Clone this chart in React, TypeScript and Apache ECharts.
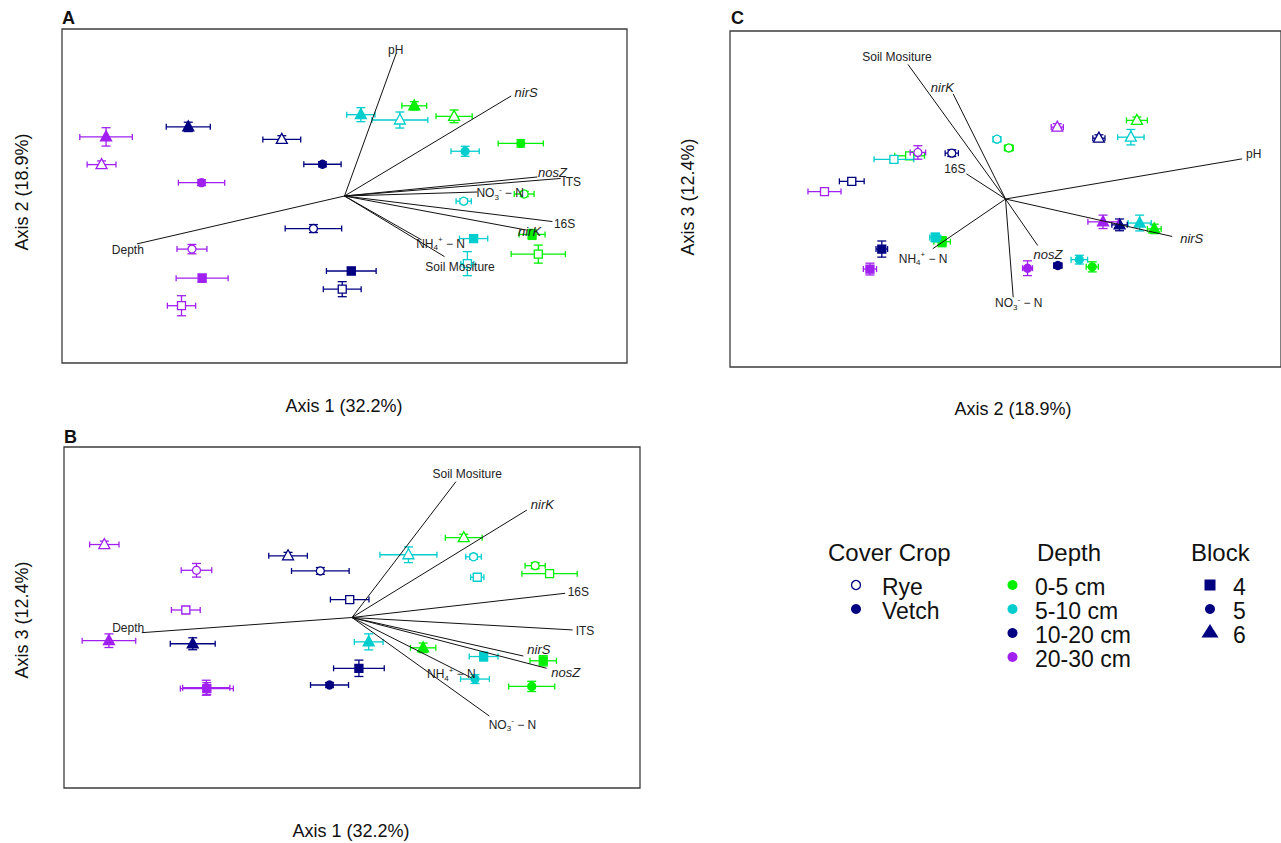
import { useEffect, useRef } from "react";
import * as echarts from "echarts";

const W = 1281;
const H = 843;
const FONT = "'Liberation Sans', Arial, Helvetica, sans-serif";
const INK = "#222";

// Factor levels
const depthLevels = ["0-5 cm", "5-10 cm", "10-20 cm", "20-30 cm"];
const depthColors = ["#00F000", "#00CDCD", "#000080", "#A020F0"];
const cropLevels = ["Rye", "Vetch"];
const blockLevels = ["4", "5", "6"];

// Group centroids (depth × cover crop × block); 0 = Rye, 1 = Vetch; block 0/1/2 = 4/5/6
const sampleDepth = [0, 0, 0, 0, 0, 0, 1, 1, 1, 1, 1, 1, 2, 2, 2, 2, 2, 2, 3, 3, 3, 3, 3, 3];
const sampleCrop = [0, 0, 0, 1, 1, 1, 0, 0, 0, 1, 1, 1, 0, 0, 0, 1, 1, 1, 0, 0, 0, 1, 1, 1];
const sampleBlock = [0, 1, 2, 0, 1, 2, 0, 1, 2, 0, 1, 2, 0, 1, 2, 0, 1, 2, 0, 1, 2, 0, 1, 2];

const axis1Score = [0.686, 0.636, 0.388, 0.664, 0.624, 0.247, 0.435, 0.422, 0.196, 0.457, 0.427, 0.058,
  -0.008, -0.110, -0.222, 0.024, -0.078, -0.553, -0.577, -0.540, -0.860, -0.504, -0.506, -0.844];
const axis2Score = [-0.348, 0.012, 0.477, -0.230, 0.315, 0.540, -0.405, -0.031, 0.455, -0.255, 0.268, 0.487,
  -0.558, -0.195, 0.339, -0.449, 0.190, 0.414, -0.657, -0.318, 0.188, -0.492, 0.080, 0.354];
const axis3Score = [0.257, 0.304, 0.468, -0.254, -0.404, -0.178, 0.236, 0.356, 0.368, -0.229, -0.361, -0.143,
  0.105, 0.273, 0.362, -0.298, -0.396, -0.154, 0.044, 0.277, 0.428, -0.417, -0.412, -0.136];

// Standard errors of the centroids on each axis
const axis1Err = [0.096, 0.035, 0.064, 0.046, 0.080, 0.044, 0.023, 0.027, 0.099, 0.050, 0.050, 0.050,
  0.067, 0.100, 0.067, 0.088, 0.066, 0.078, 0.050, 0.053, 0.051, 0.092, 0.082, 0.093];
const axis2Err = [0.054, 0.016, 0.038, 0.030, 0.022, 0.025, 0.072, 0.014, 0.048, 0.020, 0.030, 0.042,
  0.045, 0.024, 0.022, 0.021, 0.015, 0.028, 0.060, 0.028, 0.022, 0.024, 0.018, 0.055];
const axis3Err = [0.015, 0.018, 0.020, 0.030, 0.030, 0.028, 0.018, 0.015, 0.046, 0.026, 0.026, 0.047,
  0.018, 0.020, 0.020, 0.048, 0.015, 0.035, 0.018, 0.040, 0.020, 0.035, 0.044, 0.040];

// Fitted environmental vectors per ordination plane: tips and label anchors
const vectorNamesA = ["pH", "nirS", "nosZ", "ITS", "NO3", "16S", "nirK", "NH4", "Soil Mositure", "Depth"];
const vectorTipA = [[0.183, 0.854], [0.590, 0.599], [0.683, 0.114], [0.765, 0.105], [0.471, 0.024],
  [0.736, -0.153], [0.644, -0.204], [0.273, -0.263], [0.354, -0.363], [-0.735, -0.287]];
const vectorLabelA = [[0.181, 0.874], [0.643, 0.618], [0.736, 0.140], [0.804, 0.082], [0.551, 0.016],
  [0.779, -0.168], [0.655, -0.214], [0.340, -0.287], [0.409, -0.423], [-0.767, -0.323]];

const vectorNamesB = ["Soil Mositure", "nirK", "16S", "ITS", "nirS", "nosZ", "NH4", "NO3", "Depth"];
const vectorTipB = [[0.361, 0.797], [0.607, 0.630], [0.740, 0.142], [0.766, -0.073], [0.595, -0.226],
  [0.676, -0.298], [0.416, -0.355], [0.477, -0.578], [-0.730, -0.089]];
const vectorLabelB = [[0.400, 0.842], [0.661, 0.660], [0.786, 0.151], [0.809, -0.079], [0.649, -0.187],
  [0.742, -0.322], [0.345, -0.333], [0.557, -0.630], [-0.777, -0.060]];

const vectorNamesC = ["Soil Mositure", "nirK", "16S", "NH4", "NO3", "nosZ", "nirS", "pH"];
const vectorTipC = [[-0.354, 0.801], [-0.190, 0.626], [-0.142, 0.150], [-0.264, -0.296], [0.028, -0.585],
  [0.117, -0.277], [0.605, -0.223], [0.859, 0.239]];
const vectorLabelC = [[-0.394, 0.844], [-0.229, 0.662], [-0.184, 0.176], [-0.299, -0.356], [0.048, -0.620],
  [0.154, -0.330], [0.676, -0.237], [0.901, 0.265]];

const geneNames = ["nirS", "nirK", "nosZ"];

const richLabel = {
  m: { fontSize: 12, fontFamily: FONT, fill: INK, lineHeight: 16 },
  s: { fontSize: 8, fontFamily: FONT, fill: INK, lineHeight: 8, verticalAlign: "bottom" },
  p: { fontSize: 8, fontFamily: FONT, fill: INK, lineHeight: 8, verticalAlign: "top" },
};

function vectorLabelStyle(name: string) {
  const base = { fill: INK, textAlign: "center", textVerticalAlign: "middle" };
  if (name === "NO3") return { ...base, text: "{m|NO}{s|3}{p|-}{m| − N}", rich: richLabel };
  if (name === "NH4") return { ...base, text: "{m|NH}{s|4}{p|+}{m| − N}", rich: richLabel };
  if (geneNames.includes(name)) return { ...base, text: name, font: `italic 13px ${FONT}` };
  return { ...base, text: name, font: `12px ${FONT}` };
}

function pointRenderer(_params: any, api: any) {
  const x = api.value(0);
  const y = api.value(1);
  const ex = api.value(2);
  const ey = api.value(3);
  const idx = api.value(4);
  const c = api.coord([x, y]);
  const xl = api.coord([x - ex, y])[0];
  const xr = api.coord([x + ex, y])[0];
  const yt = api.coord([x, y + ey])[1];
  const yb = api.coord([x, y - ey])[1];
  const color = depthColors[sampleDepth[idx]];
  const filled = sampleCrop[idx] === 1;
  const ls = { stroke: color, lineWidth: 1.3 };
  const seg = (x1: number, y1: number, x2: number, y2: number) => ({
    type: "line",
    shape: { x1, y1, x2, y2 },
    style: ls,
  });
  const children: any[] = [
    seg(xl, c[1], xr, c[1]),
    seg(xl, c[1] - 3, xl, c[1] + 3),
    seg(xr, c[1] - 3, xr, c[1] + 3),
    seg(c[0], yt, c[0], yb),
    seg(c[0] - 4.5, yt, c[0] + 4.5, yt),
    seg(c[0] - 4.5, yb, c[0] + 4.5, yb),
  ];
  const markStyle = { fill: filled ? color : "#fff", stroke: color, lineWidth: 1.3 };
  const block = sampleBlock[idx];
  if (block === 0) {
    children.push({ type: "rect", shape: { x: c[0] - 4, y: c[1] - 4, width: 8, height: 8 }, style: markStyle });
  } else if (block === 1) {
    children.push({ type: "circle", shape: { cx: c[0], cy: c[1], r: 4 }, style: markStyle });
  } else {
    children.push({
      type: "polygon",
      shape: { points: [[c[0], c[1] - 6], [c[0] - 5.5, c[1] + 4], [c[0] + 5.5, c[1] + 4]] },
      style: markStyle,
    });
  }
  return { type: "group", children };
}

function makeVectorRenderer(names: string[]) {
  return (_params: any, api: any) => {
    const o = api.coord([0, 0]);
    const tip = api.coord([api.value(0), api.value(1)]);
    const lab = api.coord([api.value(2), api.value(3)]);
    const name = names[api.value(4)];
    return {
      type: "group",
      children: [
        { type: "line", shape: { x1: o[0], y1: o[1], x2: tip[0], y2: tip[1] }, style: { stroke: "#111", lineWidth: 1 } },
        { type: "text", x: lab[0], y: lab[1], style: vectorLabelStyle(name) },
      ],
    };
  };
}

function pointSeries(panel: number, xs: number[], ys: number[], exs: number[], eys: number[]) {
  return {
    type: "custom",
    xAxisIndex: panel,
    yAxisIndex: panel,
    silent: true,
    z: 2,
    encode: { x: 0, y: 1 },
    renderItem: pointRenderer,
    data: xs.map((v, i) => [v, ys[i], exs[i], eys[i], i]),
  };
}

function vectorSeries(panel: number, names: string[], tips: number[][], labels: number[][]) {
  return {
    type: "custom",
    xAxisIndex: panel,
    yAxisIndex: panel,
    silent: true,
    z: 3,
    encode: { x: 0, y: 1 },
    renderItem: makeVectorRenderer(names),
    data: names.map((_n, i) => [tips[i][0], tips[i][1], labels[i][0], labels[i][1], i]),
  };
}

function text(t: string, x: number, y: number, size: number, align = "center", extra: any = {}) {
  return {
    type: "text",
    x,
    y,
    silent: true,
    ...extra,
    style: {
      text: t,
      font: `${extra.bold ? "bold " : ""}${size}px ${FONT}`,
      fill: "#111",
      textAlign: align,
      textVerticalAlign: "middle",
    },
  };
}

function buildOption() {
  const gridStyle = { show: true, borderColor: "#3c3c3c", borderWidth: 1.3, backgroundColor: "transparent" };
  const axis = (gridIndex: number) => ({ type: "value", gridIndex, min: -1, max: 1, show: false });
  const navy = depthColors[2];
  const LEG = 23;

  const legend: any[] = [
    text("Cover Crop", 828, 552, 24, "left"),
    text("Depth", 1037, 552, 24, "left"),
    text("Block", 1191, 552, 24, "left"),
    { type: "circle", shape: { cx: 856, cy: 585, r: 4.5 }, style: { fill: "#fff", stroke: navy, lineWidth: 1.3 } },
    { type: "circle", shape: { cx: 856, cy: 609, r: 5 }, style: { fill: navy } },
  ];
  cropLevels.forEach((c, i) => legend.push(text(c, 882, 587 + i * 24, LEG, "left")));
  depthLevels.forEach((d, i) => {
    legend.push({ type: "circle", shape: { cx: 1012.5, cy: 585 + i * 24, r: 5 }, style: { fill: depthColors[i] } });
    legend.push(text(d, 1035, 587 + i * 24, LEG, "left"));
  });
  blockLevels.forEach((b, i) => legend.push(text(b, 1233, 587 + i * 24, LEG, "left")));
  legend.push(
    { type: "rect", shape: { x: 1204.5, y: 579.5, width: 11, height: 11 }, style: { fill: navy } },
    { type: "circle", shape: { cx: 1210, cy: 609, r: 5 }, style: { fill: navy } },
    { type: "polygon", shape: { points: [[1210, 624], [1201.5, 637.5], [1218.5, 637.5]] }, style: { fill: navy } },
  );

  return {
    animation: false,
    backgroundColor: "#fff",
    grid: [
      { left: 62, top: 29, width: 565, height: 334, ...gridStyle },
      { left: 64, top: 447, width: 576, height: 341, ...gridStyle },
      { left: 730, top: 31, width: 566, height: 336, ...gridStyle },
    ],
    xAxis: [axis(0), axis(1), axis(2)],
    yAxis: [axis(0), axis(1), axis(2)],
    series: [
      pointSeries(0, axis1Score, axis2Score, axis1Err, axis2Err),
      pointSeries(1, axis1Score, axis3Score, axis1Err, axis3Err),
      pointSeries(2, axis2Score, axis3Score, axis2Err, axis3Err),
      vectorSeries(0, vectorNamesA, vectorTipA, vectorLabelA),
      vectorSeries(1, vectorNamesB, vectorTipB, vectorLabelB),
      vectorSeries(2, vectorNamesC, vectorTipC, vectorLabelC),
    ],
    graphic: [
      text("A", 62, 18, 18, "left", { bold: true }),
      text("B", 64, 437, 18, "left", { bold: true }),
      text("C", 731, 18, 18, "left", { bold: true }),
      text("Axis 1 (32.2%)", 344, 406, 18),
      text("Axis 2 (18.9%)", 22, 192, 18, "center", { rotation: Math.PI / 2 }),
      text("Axis 1 (32.2%)", 351, 831, 18),
      text("Axis 3 (12.4%)", 22, 620, 18, "center", { rotation: Math.PI / 2 }),
      text("Axis 2 (18.9%)", 1013, 409, 18),
      text("Axis 3 (12.4%)", 688, 197, 18, "center", { rotation: Math.PI / 2 }),
      ...legend,
    ],
  };
}

export default function App() {
  const ref = useRef<HTMLDivElement>(null);
  useEffect(() => {
    if (!ref.current) return;
    const chart = echarts.init(ref.current, undefined, { renderer: "svg", width: W, height: H });
    chart.setOption(buildOption() as any);
    return () => chart.dispose();
  }, []);
  return (
    <div
      ref={ref}
      style={{ position: "fixed", left: 0, top: 0, width: W, height: H, background: "#fff" }}
    />
  );
}
